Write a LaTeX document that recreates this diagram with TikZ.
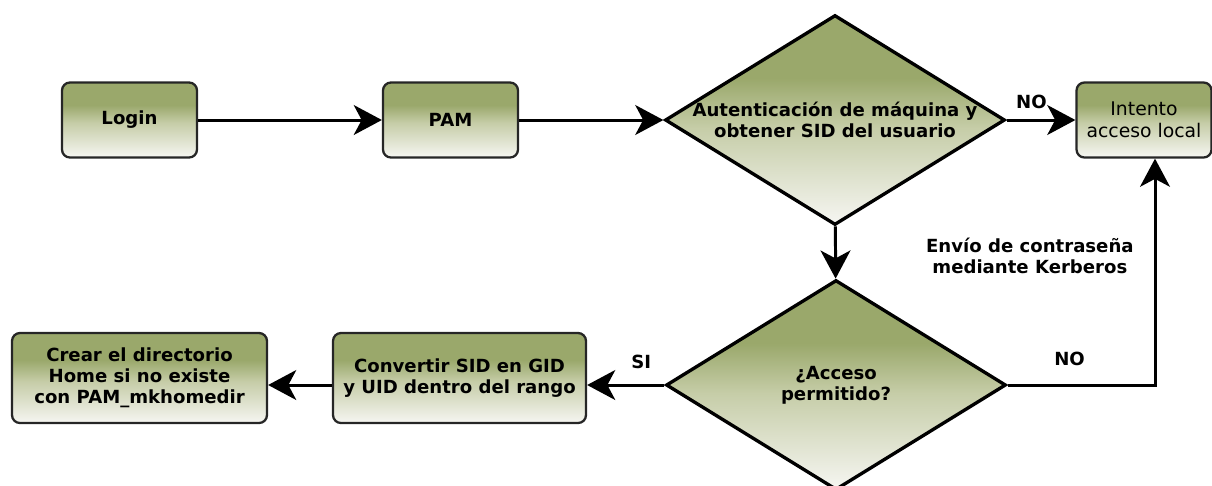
\documentclass[tikz,border=0pt]{standalone}
\usepackage{fontspec}
\setmainfont{DejaVu Sans}
\usetikzlibrary{shapes.geometric,arrows.meta}
\definecolor{boxolive}{HTML}{9AA86B}
\definecolor{fademid}{HTML}{C6CDA8}
\definecolor{fadelow}{HTML}{F6F6F2}
\pgfdeclareverticalshading{olivefade}{100bp}{color(0bp)=(fadelow); color(25bp)=(fadelow); color(48bp)=(fademid); color(60bp)=(boxolive); color(100bp)=(boxolive)}
\newcommand{\flowfont}{\fontsize{10.3}{12}\selectfont}
\tikzset{
  flowbox/.style={rectangle, rounded corners=4.5pt, draw=black!85, line width=1.3pt,
    shading=olivefade, minimum width=2.7cm, minimum height=1.5cm, align=center,
    font=\bfseries\flowfont, text=black},
  decision/.style={diamond, draw=black, line width=1.9pt, shading=olivefade,
    minimum width=6.8cm, minimum height=4.2cm, inner sep=0pt},
  tag/.style={font=\bfseries\flowfont, align=center, text=black},
  flowarrow/.style={line width=1.7pt, -{Stealth[length=16pt,width=17pt,inset=4.5pt]}}
}
\begin{document}
\begin{tikzpicture}[x=0.02cm, y=-0.02cm]
  \useasboundingbox (0,0) rectangle (1212,485);

  \node[flowbox] (login) at (129.5,120) {Login};
  \node[flowbox] (pam) at (450.5,120) {PAM};
  \node[decision, label={[tag]center:Autenticación de máquina y\\obtener SID del usuario}] (auth) at (835,120) {};
  \node[flowbox, font=\fontsize{10.7}{12.5}\selectfont] (local) at (1144,120) {Intento\\acceso local};

  \node[decision, label={[tag]center:¿Acceso\\permitido?}] (acceso) at (836,385) {};
  \node[flowbox, minimum width=5.06cm, minimum height=1.8cm] (conv) at (459.5,378) {Convertir SID en GID\\y UID dentro del rango};
  \node[flowbox, minimum width=5.1cm, minimum height=1.8cm] (home) at (139.5,378) {Crear el directorio\\Home si no existe\\con PAM\_mkhomedir};

  \draw[flowarrow] (login) -- (pam);
  \draw[flowarrow] (pam) -- (auth);
  \draw[flowarrow] (auth) -- node[tag, above, pos=0.36, yshift=2.4pt] {NO} (local);
  \draw[flowarrow] (auth) -- (acceso);
  \draw[flowarrow] (acceso.east) -| node[tag, above, pos=0.21, yshift=6.5pt] {NO}
    node[tag, left, pos=0.785, xshift=-8pt] {Envío de contraseña\\mediante Kerberos}
    ([xshift=0.22cm]local.south);
  \draw[flowarrow] (acceso.west) -- node[tag, above, pos=0.3, yshift=5pt] {SI} (acceso.west -| conv.east);
  \draw[flowarrow] (conv.west |- acceso.west) -- (acceso.west -| home.east);
\end{tikzpicture}
\end{document}
